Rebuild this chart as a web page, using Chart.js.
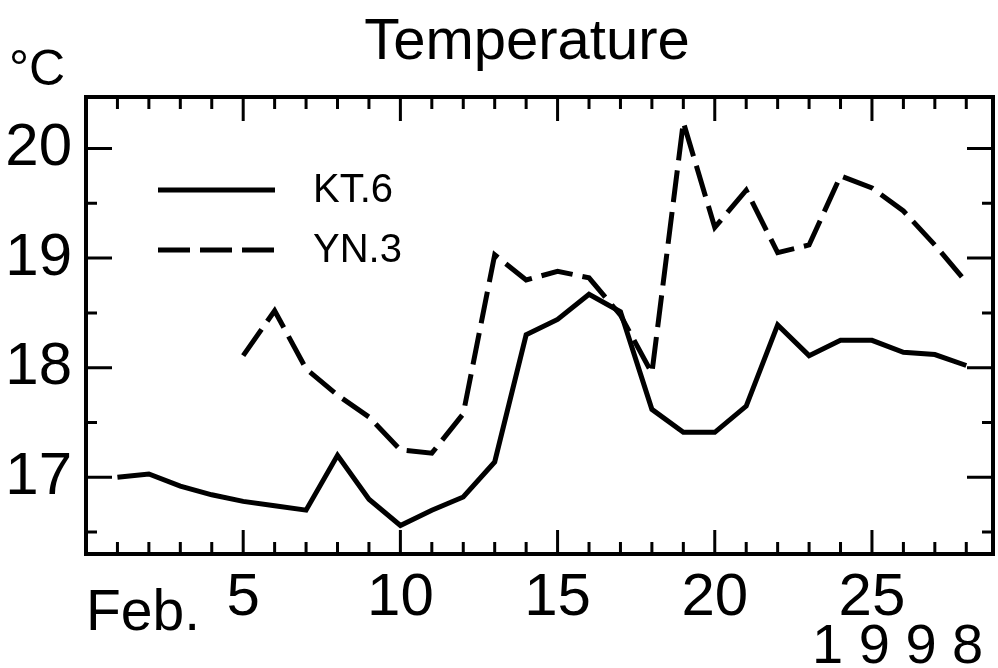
<!DOCTYPE html>
<html>
<head>
<meta charset="utf-8">
<title>Temperature</title>
<script src="https://cdn.jsdelivr.net/npm/chart.js@4/dist/chart.umd.min.js"></script>
<style>
  html, body { margin: 0; padding: 0; background: #fff; }
  #chart { display: block; }
</style>
</head>
<body>
<canvas id="chart" width="998" height="668"></canvas>
<script>
// daily water temperature, Feb. 1998
const days = [1, 2, 3, 4, 5, 6, 7, 8, 9, 10, 11, 12, 13, 14, 15, 16, 17, 18, 19, 20, 21, 22, 23, 24, 25, 26, 27, 28];
const kt6 = [17.0, 17.03, 16.92, 16.84, 16.78, 16.74, 16.70, 17.2, 16.8, 16.56, 16.70, 16.82, 17.14, 18.3,
  18.44, 18.67, 18.51, 17.62, 17.41, 17.41, 17.65, 18.39, 18.11, 18.25, 18.25, 18.14, 18.12, 18.02];
const yn3 = [null, null, null, null, 18.11, 18.52, 17.99, 17.75, 17.55, 17.25, 17.22, 17.58, 19.03, 18.8,
  18.88, 18.82, 18.48, 17.95, 20.24, 19.28, 19.62, 19.05, 19.12, 19.75, 19.64, 19.43, 19.12, 18.78];
const seriesNames = ['KT.6', 'YN.3'];
const xLabelEvery = 5;

const FONT = '"Liberation Sans", Arial, Helvetica, sans-serif';

function points(vals) {
  return days.map((d, i) => ({ x: d, y: vals[i] }));
}

// frame, inward ticks, legend and loose labels
const decorations = {
  id: 'decorations',
  afterDatasetsDraw(chart) {
    const { ctx, chartArea: a, scales: { x, y } } = chart;
    ctx.save();
    ctx.strokeStyle = '#000';
    ctx.lineCap = 'butt';

    ctx.lineWidth = 3;
    ctx.beginPath();
    x.ticks.forEach(t => {
      if (t.value <= x.min || t.value >= x.max) return;
      const px = x.getPixelForValue(t.value);
      const len = t.value % 5 === 0 ? 24 : 12;
      ctx.moveTo(px, a.bottom);
      ctx.lineTo(px, a.bottom - len);
      ctx.moveTo(px, a.top);
      ctx.lineTo(px, a.top + len);
    });
    y.ticks.forEach(t => {
      if (t.value <= y.min || t.value >= y.max) return;
      const py = y.getPixelForValue(t.value);
      const len = Number.isInteger(t.value) ? 26 : 11;
      ctx.moveTo(a.left, py);
      ctx.lineTo(a.left + len, py);
      ctx.moveTo(a.right, py);
      ctx.lineTo(a.right - len, py);
    });
    ctx.stroke();

    ctx.lineWidth = 4;
    ctx.strokeRect(a.left, a.top, a.right - a.left, a.bottom - a.top);

    // legend
    const rows = [190, 250];
    chart.data.datasets.forEach((ds, i) => {
      ctx.beginPath();
      ctx.lineWidth = ds.borderWidth;
      ctx.setLineDash(ds.borderDash || []);
      ctx.moveTo(158, rows[i]);
      ctx.lineTo(275, rows[i]);
      ctx.stroke();
      ctx.setLineDash([]);
      ctx.fillStyle = '#000';
      ctx.font = '40px ' + FONT;
      ctx.textBaseline = 'middle';
      ctx.textAlign = 'left';
      ctx.fillText(ds.label, 313, rows[i] + 1);
    });

    ctx.textBaseline = 'alphabetic';
    ctx.fillStyle = '#000';
    ctx.font = '58px ' + FONT;
    ctx.textAlign = 'center';
    ctx.fillText('Temperature', 527, 59);
    ctx.textAlign = 'left';
    ctx.font = '50px ' + FONT;
    ctx.fillText('°C', 9, 85);
    ctx.font = '57px ' + FONT;
    ctx.fillText('Feb.', 86, 630);
    ctx.font = '56px ' + FONT;
    ctx.fillText('1 9 9 8', 812, 663);
    ctx.restore();
  }
};

new Chart(document.getElementById('chart'), {
  type: 'line',
  data: {
    datasets: [
      {
        label: seriesNames[0],
        data: points(kt6),
        borderColor: '#000',
        borderWidth: 5,
        pointRadius: 0,
        tension: 0
      },
      {
        label: seriesNames[1],
        data: points(yn3),
        borderColor: '#000',
        borderWidth: 5,
        borderDash: [32, 10],
        pointRadius: 0,
        tension: 0
      }
    ]
  },
  options: {
    responsive: false,
    animation: false,
    layout: { padding: { top: 97, right: 5, bottom: 0, left: 0 } },
    plugins: {
      legend: { display: false },
      title: { display: false },
      tooltip: { enabled: false }
    },
    scales: {
      x: {
        type: 'linear',
        min: 0,
        max: 28.85,
        grid: { display: false, drawTicks: false },
        border: { display: false },
        afterFit: s => { s.height = 114; },
        ticks: {
          stepSize: 1,
          includeBounds: false,
          autoSkip: false,
          maxRotation: 0,
          padding: 8,
          color: '#000',
          font: { family: FONT, size: 60 },
          callback: v => (v > 0 && v % xLabelEvery === 0 ? String(v) : '')
        }
      },
      y: {
        min: 16.3,
        max: 20.47,
        grid: { display: false, drawTicks: false },
        border: { display: false },
        afterFit: s => { s.width = 86; },
        ticks: {
          stepSize: 0.5,
          includeBounds: false,
          autoSkip: false,
          padding: 14,
          color: '#000',
          font: { family: FONT, size: 60 },
          callback: v => (Number.isInteger(v) ? String(v) : '')
        }
      }
    }
  },
  plugins: [decorations]
});
</script>
</body>
</html>
